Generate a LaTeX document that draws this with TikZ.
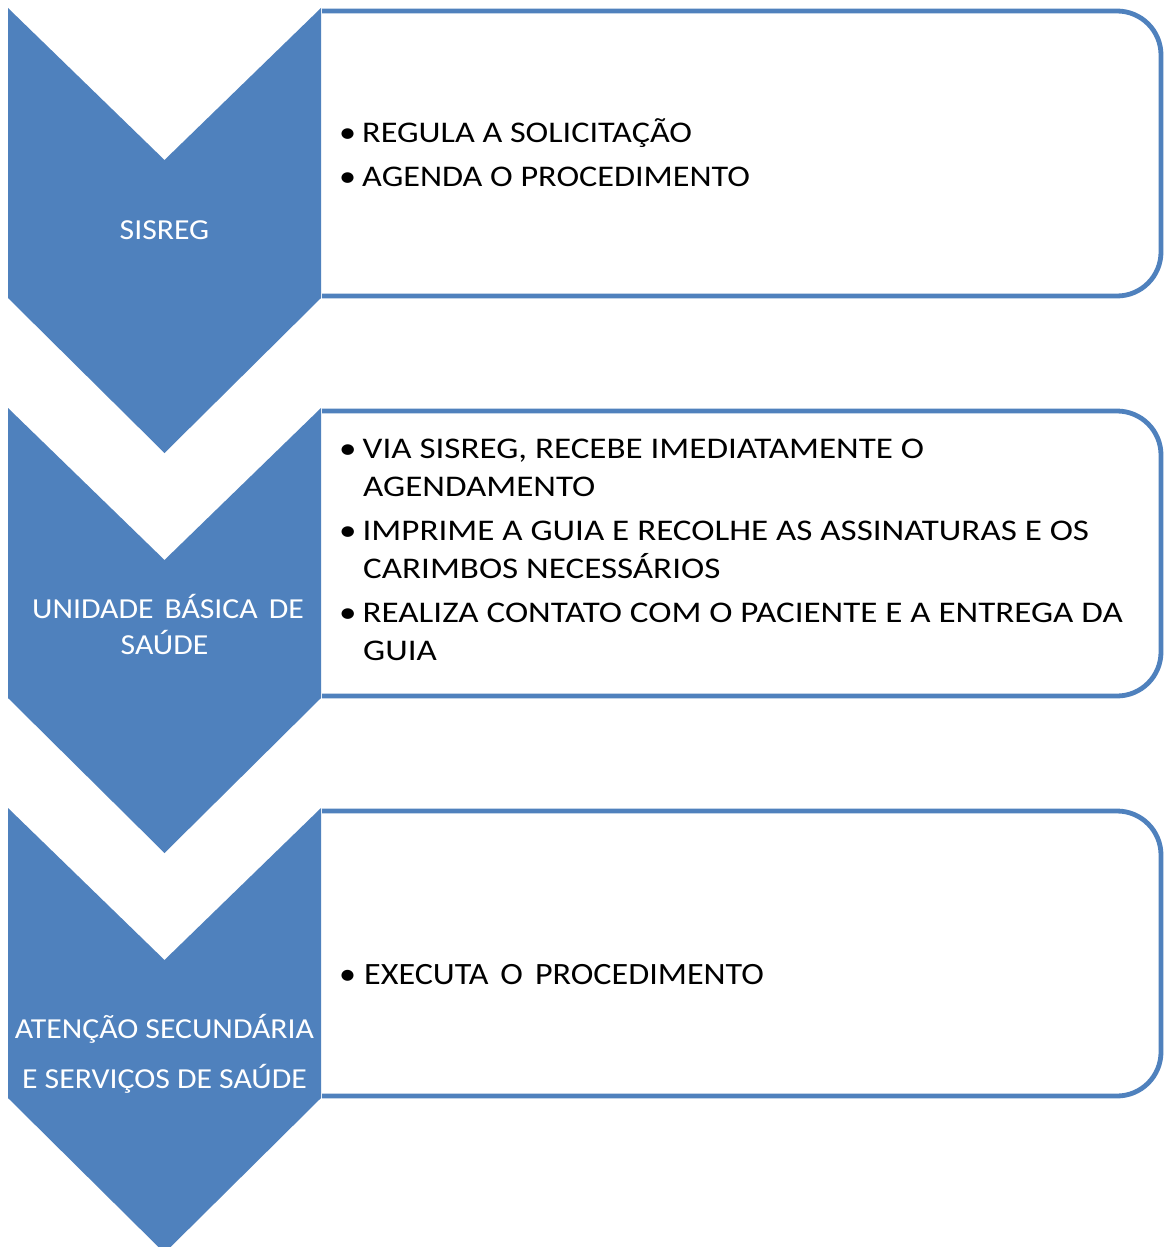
\documentclass[tikz,border=0pt]{standalone}
\usepackage{fontspec}
\setmainfont{Carlito}
\newfontfamily\chevfont[FakeStretch=1.095]{Carlito}
\newfontfamily\boxfont[FakeStretch=1.14]{Carlito}
\newfontfamily\boxbfont[FakeStretch=1.168]{Carlito}
\newfontfamily\boxcfont[FakeStretch=1.1]{Carlito}
\definecolor{chevblue}{HTML}{4F81BD}
\tikzset{
  chev/.style={fill=chevblue, draw=none},
  boxline/.style={draw=chevblue, line width=4.8pt, fill=white},
  ctext/.style={text=white, font=\chevfont\fontsize{29}{36}\selectfont, anchor=base, inner sep=0pt},
  btext/.style={text=black, font=\boxfont\fontsize{30}{36}\selectfont, anchor=base west, inner sep=0pt},
  ntext/.style={text=black, font=\boxbfont\fontsize{30}{36}\selectfont, anchor=base west, inner sep=0pt},
  etext/.style={text=black, font=\boxcfont\fontsize{31}{36}\selectfont, anchor=base west, inner sep=0pt},
}
\begin{document}
\begin{tikzpicture}[x=1pt,y=-1pt]
\useasboundingbox (0,0) rectangle (1164,1247);
\fill[white] (0,0) rectangle (1164,1247);
\foreach \o in {0,400,800}{
  \draw[boxline] (322,11+\o) -- (700,11+\o) [rounded corners=44] -- (1161,11+\o) -- (1161,296+\o) -- (700,296+\o) [sharp corners] -- (322,296+\o);
  \fill[chev] (8,8+\o) -- (164.5,160+\o) -- (321,8+\o) -- (321,298+\o) -- (164.5,453+\o) -- (8,298+\o) -- cycle;
}
% chevron labels
\node[ctext] (c1) at (164.5,239) {SISREG};
\node[ctext] (c2a) at (168,618) {UNIDADE\hspace{11pt}BÁSICA\hspace{11pt}DE};
\node[ctext] (c2b) at (164.5,654) {SAÚDE};
\node[ctext] (c3a) at (164.5,1038) {ATENÇÃO SECUNDÁRIA};
\node[ctext] (c3b) at (164.5,1088) {E SERVIÇOS DE SAÚDE};
% box 1
\node[btext] (b1a) at (339,142) {•\hspace{6pt}REGULA A SOLICITAÇÃO};
\node[btext] (b1b) at (339,186) {•\hspace{6pt}AGENDA O PROCEDIMENTO};
% box 2
\node[ntext] (b2a) at (339,458) {•\hspace{6pt}VIA SISREG, RECEBE IMEDIATAMENTE O};
\node[ntext] (b2b) at (363,496) {AGENDAMENTO};
\node[ntext] (b2c) at (339,540) {•\hspace{6pt}IMPRIME A GUIA E RECOLHE AS ASSINATURAS E OS};
\node[ntext] (b2d) at (363,578) {CARIMBOS NECESSÁRIOS};
\node[ntext] (b2e) at (339,622) {•\hspace{6pt}REALIZA CONTATO COM O PACIENTE E A ENTREGA DA};
\node[ntext] (b2f) at (363,660) {GUIA};
% box 3
\node[etext] (b3a) at (339,984) {•\hspace{8pt}EXECUTA\hspace{12pt}O\hspace{12pt}PROCEDIMENTO};
\end{tikzpicture}
\end{document}
